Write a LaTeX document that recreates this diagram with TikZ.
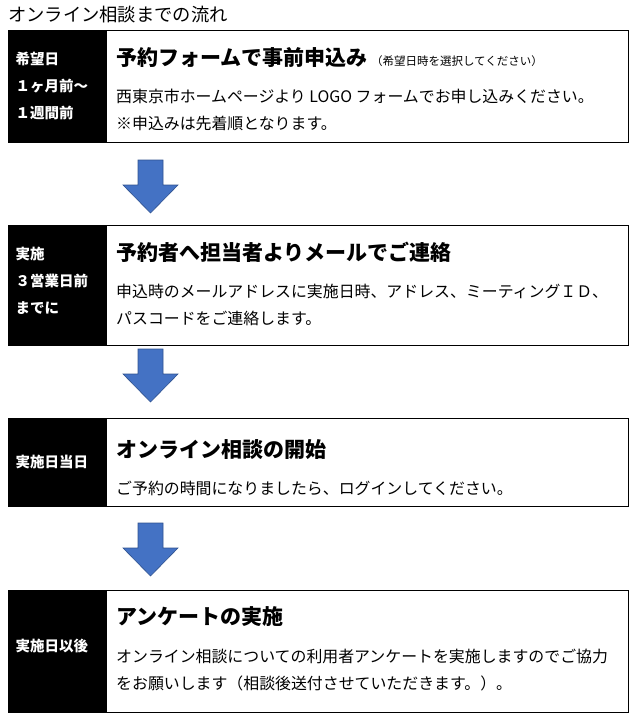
\documentclass[tikz,border=0pt]{standalone}
\usepackage{fontspec}
\setmainfont{Noto Sans CJK JP}
\usetikzlibrary{positioning}
\definecolor{arrowblue}{HTML}{4472C4}
\definecolor{arrowline}{HTML}{2F528F}
\tikzset{
  framebox/.style={draw=black,line width=0.8pt},
  datecell/.style={fill=black,draw=black,line width=0.8pt},
  datetext/.style={text=white,font=\fontsize{14.5}{27}\selectfont\bfseries,align=left,anchor=west},
  headtext/.style={font=\fontsize{21}{22}\selectfont\bfseries,anchor=west,inner sep=0pt},
  bodytext/.style={font=\fontsize{15.9}{27}\selectfont,align=left,anchor=north west,inner sep=0pt},
  downarrow/.style={fill=arrowblue,draw=arrowline,line width=0.6pt}
}
\newcommand{\flowarrow}[1]{% top y of arrow
  \draw[downarrow] (138,#1) -- (163,#1) -- (163,#1+25) -- (178,#1+25) -- (150.5,#1+53)
    -- (123,#1+25) -- (138,#1+25) -- cycle;}
\begin{document}
\begin{tikzpicture}[x=1pt,y=-1pt]
 \useasboundingbox (0,0) rectangle (636,721);
 \node[anchor=west,inner sep=0pt,font=\fontsize{18.3}{19}\selectfont] (title) at (8,15) {オンライン相談までの流れ};

 % step 1
 \draw[framebox] (8,30) rectangle (628,142);
 \fill[datecell] (8,30) rectangle (106,142);
 \node[datetext] (d1) at (12,86) {希望日\\ １ヶ月前～\\ １週間前};
 \node[headtext] (h1) at (116,58) {予約フォームで事前申込み\,{\fontsize{11.5}{12}\selectfont\mdseries（希望日時を選択してください）}};
 \node[bodytext] (b1) at (116,89) {西東京市ホームページより LOGO フォームでお申し込みください。\\ ※申込みは先着順となります。};
 \flowarrow{160}

 % step 2
 \draw[framebox] (8,225) rectangle (628,345);
 \fill[datecell] (8,225) rectangle (106,345);
 \node[datetext] (d2) at (12,281) {実施\\ ３営業日前\\ までに};
 \node[headtext] (h2) at (116,252) {予約者へ担当者よりメールでご連絡};
 \node[bodytext] (b2) at (116,284) {申込時のメールアドレスに実施日時、アドレス、ミーティングＩＤ、\\ パスコードをご連絡します。};
 \flowarrow{349}

 % step 3
 \draw[framebox] (8,418) rectangle (628,506);
 \fill[datecell] (8,418) rectangle (106,506);
 \node[datetext] (d3) at (12,462) {実施日当日};
 \node[headtext] (h3) at (116,450) {オンライン相談の開始};
 \node[bodytext] (b3) at (116,481) {ご予約の時間になりましたら、ログインしてください。};
 \flowarrow{523}

 % step 4
 \draw[framebox] (8,590) rectangle (628,712);
 \fill[datecell] (8,590) rectangle (106,712);
 \node[datetext] (d4) at (12,646) {実施日以後};
 \node[headtext] (h4) at (116,617) {アンケートの実施};
 \node[bodytext] (b4) at (116,649) {オンライン相談についての利用者アンケートを実施しますのでご協力\\ をお願いします（相談後送付させていただきます。）。};
\end{tikzpicture}
\end{document}
